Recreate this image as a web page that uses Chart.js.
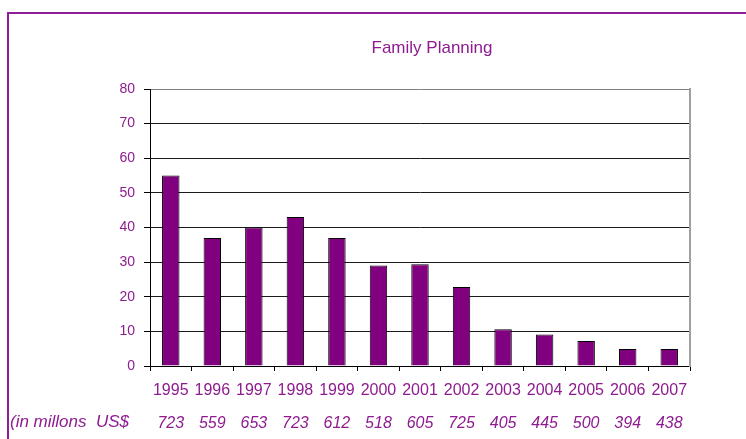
<!DOCTYPE html>
<html>
<head>
<meta charset="utf-8">
<script src="https://cdn.jsdelivr.net/npm/chart.js@4/dist/chart.umd.min.js"></script>
<style>
  html, body { margin: 0; padding: 0; background: #ffffff; }
  canvas { display: block; }
</style>
</head>
<body>
<canvas id="c" width="746" height="439"></canvas>
<script>
// ---- data ----
const years = ['1995','1996','1997','1998','1999','2000','2001','2002','2003','2004','2005','2006','2007'];
const percentValues = [55, 37, 40, 43, 37, 29, 29.4, 22.8, 10.6, 9.1, 7.2, 4.9, 4.9];
const fundingMillions = ['723','559','653','723','612','518','605','725','405','445','500','394','438'];
const yTicks = [0, 10, 20, 30, 40, 50, 60, 70, 80];
const chartTitle = 'Family Planning';
const fundingCaption = '(in millons  US$';

const PURPLE_TEXT = '#8e1b90';
const FONT = '"Liberation Sans", Arial, sans-serif';

const framePlugin = {
  id: 'frameAndTexts',
  beforeDraw(chart) {
    const ctx = chart.ctx;
    ctx.save();
    ctx.strokeStyle = '#911c97';
    ctx.lineWidth = 2;
    ctx.beginPath();
    ctx.moveTo(8, 439);
    ctx.lineTo(8, 13);
    ctx.lineTo(746, 13);
    ctx.stroke();
    ctx.restore();
  },
  afterDraw(chart) {
    const ctx = chart.ctx;
    ctx.save();
    ctx.fillStyle = PURPLE_TEXT;
    ctx.font = '17px ' + FONT;
    ctx.textAlign = 'center';
    ctx.textBaseline = 'alphabetic';
    ctx.fillText(chartTitle, 432, 53);
    ctx.font = 'italic 17px ' + FONT;
    ctx.textAlign = 'left';
    ctx.fillText(fundingCaption, 10, 427);
    ctx.restore();
  }
};

new Chart(document.getElementById('c'), {
  type: 'bar',
  data: {
    labels: years,
    datasets: [{
      data: percentValues,
      backgroundColor: '#800080',
      borderColor: '#000000',
      borderWidth: 1,
      barPercentage: 0.42,
      categoryPercentage: 1.0
    }]
  },
  options: {
    responsive: false,
    animation: false,
    layout: { padding: { top: 89, right: 56, left: 0, bottom: 0 } },
    plugins: {
      legend: { display: false },
      title: { display: false },
      tooltip: { enabled: false }
    },
    scales: {
      x: {
        type: 'category',
        position: 'bottom',
        weight: 0,
        grid: { drawOnChartArea: false, drawTicks: true, tickLength: 5, color: '#000', offset: true },
        border: { color: '#000', width: 1 },
        ticks: { color: PURPLE_TEXT, font: { family: FONT, size: 16 }, padding: 10, autoSkip: false, maxRotation: 0, minRotation: 0 },
        afterFit(scale) { scale.height = 36; }
      },
      x2: {
        type: 'category',
        position: 'bottom',
        weight: 1,
        labels: fundingMillions,
        grid: { display: false },
        border: { display: false },
        ticks: { color: PURPLE_TEXT, font: { family: FONT, size: 16, style: 'italic' }, padding: 4, autoSkip: false, maxRotation: 0, minRotation: 0 },
        afterFit(scale) { scale.height = 37; }
      },
      y: {
        min: 0,
        max: 80,
        position: 'left',
        afterBuildTicks(scale) { scale.ticks = yTicks.map(v => ({ value: v })); },
        grid: {
          color: (c) => (c.tick && c.tick.value === 80) ? '#808080' : '#1a1a1a',
          tickColor: '#000',
          tickLength: 6,
          lineWidth: 1
        },
        border: { color: '#000', width: 1 },
        ticks: { color: PURPLE_TEXT, font: { family: FONT, size: 14 }, padding: 9 },
        afterFit(scale) { scale.width = 150; }
      },
      y2: {
        min: 0,
        max: 80,
        position: 'right',
        grid: { drawOnChartArea: false, drawTicks: false },
        border: { color: '#a0a0a0', width: 2 },
        ticks: { display: false },
        afterFit(scale) { scale.width = 0; }
      }
    }
  },
  plugins: [framePlugin]
});
</script>
</body>
</html>
